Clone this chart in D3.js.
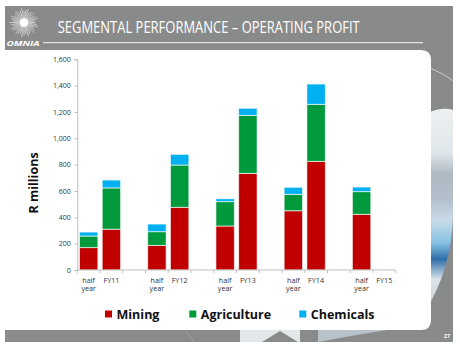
<!DOCTYPE html>
<html>
<head>
<meta charset="utf-8">
<script src="https://cdn.jsdelivr.net/npm/d3@7/dist/d3.min.js"></script>
<style>
  html, body { margin: 0; padding: 0; background: #fff; }
  svg { display: block; font-family: "Open Sans", "Noto Sans", sans-serif; }
</style>
</head>
<body>
<svg id="chart" width="460" height="349"></svg>
<script>
// Category slots (blank slots separate the financial years)
const periods = ["half year", "FY11", "", "half year", "FY12", "", "half year", "FY13", "", "half year", "FY14", "", "half year", "FY15"];
// Operating profit by segment, R millions
const mining      = [170, 310, null, 187, 476, null, 334, 734, null, 450, 825, null, 423, null];
const agriculture = [ 88, 313, null, 104, 321, null, 185, 440, null, 125, 433, null, 172, null];
const chemicals   = [ 30,  60, null,  58,  81, null,  22,  54, null,  53, 154, null,  35, null];
const segments = ["Mining", "Agriculture", "Chemicals"];
const segColors = ["#c00000", "#009a3d", "#00b0f0"];
const yTicks = [0, 200, 400, 600, 800, 1000, 1200, 1400, 1600];

const svg = d3.select("#chart");
const grey = "#898b8a";

// ---- slide background ----
const defs = svg.append("defs");
const grad = defs.append("linearGradient").attr("id", "photo").attr("x1", 0).attr("y1", 0).attr("x2", 0).attr("y2", 1);
[["0%", "#eef1f3"], ["22%", "#dfe6ea"], ["32%", "#aeb9c3"], ["45%", "#b3c1cc"], ["55%", "#c8dce8"],
 ["66%", "#86c0e3"], ["74%", "#2f6fa8"], ["84%", "#d9e4eb"], ["100%", "#c9c9cc"]]
  .forEach(([o, c]) => grad.append("stop").attr("offset", o).attr("stop-color", c));
defs.append("clipPath").attr("id", "slideClip")
  .append("rect").attr("x", 5).attr("y", 6).attr("width", 448).attr("height", 336);

svg.append("rect").attr("x", 5).attr("y", 6).attr("width", 448).attr("height", 336).attr("fill", grey);

const deco = svg.append("g").attr("clip-path", "url(#slideClip)");
// photo disc peeking out beside the panel
deco.append("path").attr("d", "M425,114 Q442,106 453,110 L453,215 Q452,268 425,312 Z")
  .attr("fill", "url(#photo)");
deco.append("path").attr("d", "M430,68 Q445,74 455,82")
  .attr("fill", "none").attr("stroke", "#d9dcdc").attr("stroke-width", 0.8);
deco.append("rect").attr("x", 240).attr("y", 330).attr("width", 60).attr("height", 12).attr("fill", "#e3e7ea");
deco.append("path").attr("d", "M262,342 L280,331 L298,342 Z").attr("fill", grey);
deco.append("path").attr("d", "M318,342 Q360,334 400,328 L318,328 Z").attr("fill", "#b9c2c8");
deco.append("path").attr("d", "M186,331 L194,342").attr("stroke", "#b8baba").attr("stroke-width", 0.6);

// white content panel, rounded on the right
svg.append("path")
  .attr("d", "M0,50 H421 Q431,50 431,60 V320 Q431,330 421,330 H0 Z")
  .attr("fill", "#fff");

// header rule and title
svg.append("line").attr("x1", 43).attr("x2", 423).attr("y1", 42.7).attr("y2", 42.7)
  .attr("stroke", "#e4e4e4").attr("stroke-width", 1.3);
svg.append("text").attr("x", 57.7).attr("y", 32.7)
  .attr("fill", "#fff").attr("font-size", 16)
  .attr("textLength", 302).attr("lengthAdjust", "spacingAndGlyphs")
  .text("SEGMENTAL PERFORMANCE – OPERATING PROFIT");

// logo: sunburst and wordmark
const logo = svg.append("g").attr("transform", "translate(24,22.5)");
d3.range(40).forEach(i => {
  const a = i / 40 * 2 * Math.PI;
  const r2 = 11.5 + (i % 3) * 1.5;
  logo.append("line")
    .attr("x1", Math.cos(a) * 6).attr("y1", Math.sin(a) * 6)
    .attr("x2", Math.cos(a) * r2).attr("y2", Math.sin(a) * r2)
    .attr("stroke", "#f4f4f4").attr("stroke-width", 0.7).attr("opacity", 0.85);
});
logo.append("circle").attr("r", 6).attr("fill", "#fff").attr("opacity", 0.5);
logo.append("circle").attr("r", 4.2).attr("fill", "#fff");
svg.append("text").attr("x", 6.5).attr("y", 45.5)
  .attr("fill", "#fff").attr("font-size", 6.5).attr("font-weight", "bold").attr("font-style", "italic")
  .attr("textLength", 33).attr("lengthAdjust", "spacingAndGlyphs")
  .text("OMNIA");

svg.append("text").attr("x", 447).attr("y", 338)
  .attr("fill", "#fff").attr("font-size", 5.5).attr("font-weight", "bold")
  .attr("text-anchor", "middle").text("27");

// ---- chart ----
const x = d3.scaleBand().domain(d3.range(periods.length))
  .range([77.3, 395.7]).paddingInner(0.19).paddingOuter(0.095);
const y = d3.scaleLinear().domain([0, 1600]).range([270, 59.3]);

const rows = periods.map((p, i) => ({
  i, Mining: mining[i] || 0, Agriculture: agriculture[i] || 0, Chemicals: chemicals[i] || 0
}));
const stacked = d3.stack().keys(segments)(rows);

const yAxis = svg.append("g").attr("transform", "translate(77.3,0)")
  .call(d3.axisLeft(y).tickValues(yTicks).tickFormat(d3.format(",")).tickSize(3).tickPadding(3.5));
yAxis.selectAll("path, line").attr("stroke", "#bfbfbf");
yAxis.selectAll("text").attr("font-size", 7).attr("fill", "#333").attr("font-family", "'Open Sans', sans-serif");

svg.append("g").selectAll("g").data(stacked).join("g")
  .attr("fill", (d, k) => segColors[k])
  .selectAll("rect").data(d => d.filter(v => v[1] > v[0])).join("rect")
  .attr("x", d => x(d.data.i))
  .attr("width", x.bandwidth())
  .attr("y", d => y(d[1]))
  .attr("height", d => y(d[0]) - y(d[1]))
  .attr("stroke", "#ffffff").attr("stroke-opacity", 0.7).attr("stroke-width", 0.9);

// category axis with ticks between slots
const xAxis = svg.append("g");
const [x0, x1] = x.range();
xAxis.append("line").attr("x1", x0).attr("x2", x1).attr("y1", 270).attr("y2", 270)
  .attr("stroke", "#bfbfbf");
d3.range(periods.length + 1).forEach(k => {
  const px = x0 + k * x.step();
  xAxis.append("line").attr("x1", px).attr("x2", px).attr("y1", 270).attr("y2", 273)
    .attr("stroke", "#bfbfbf");
});
periods.forEach((p, i) => {
  if (!p) return;
  const cx = x(i) + x.bandwidth() / 2;
  const words = p.split(" ");
  const t = xAxis.append("text").attr("text-anchor", "middle")
    .attr("font-size", 7.2).attr("fill", "#333");
  words.forEach((w, j) => t.append("tspan").attr("x", cx).attr("y", 282.5 + j * 8.8).text(w));
});

// axis title
svg.append("text").attr("transform", "translate(38,183) rotate(-90)")
  .attr("text-anchor", "middle").attr("font-size", 12.5).attr("font-weight", "bold")
  .attr("fill", "#111").text("R millions");

// legend
const legendX = [105, 189.3, 299.3];
const legend = svg.append("g");
segments.forEach((s, k) => {
  legend.append("rect").attr("x", legendX[k]).attr("y", 310.5).attr("width", 7).attr("height", 7)
    .attr("fill", segColors[k]);
  legend.append("text").attr("x", legendX[k] + 11.5).attr("y", 318.5)
    .attr("font-size", 12.5).attr("font-weight", "bold").attr("fill", "#111").text(s);
});
</script>
</body>
</html>
